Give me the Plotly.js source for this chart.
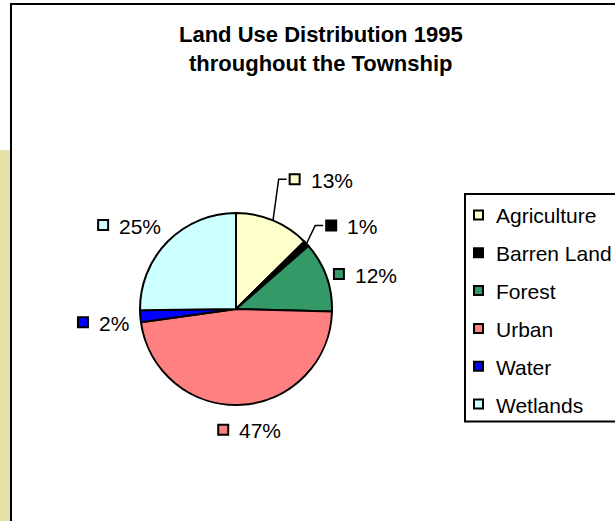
<!DOCTYPE html>
<html><head><meta charset="utf-8">
<script src="https://cdn.plot.ly/plotly-3.0.1.min.js"></script>
<style>html,body{margin:0;padding:0;background:#fff;}#chart{width:615px;height:521px;}</style>
</head><body><div id="chart"></div>
<script>
// ---- data ----
const categories = ['Agriculture', 'Barren Land', 'Forest', 'Urban', 'Water', 'Wetlands'];
const shares = [12.6, 1.0, 11.8, 47.4, 2.0, 25.2];
const colors = ['#FFFFCC', '#000000', '#339966', '#FF8080', '#0000FF', '#CCFFFF'];
const titleLines = ['Land Use Distribution 1995', 'throughout the Township'];

// ---- layout config (pixels) ----
const W = 615, H = 521;
const CX = 236, CY = 309, R = 96;
const FONT = '"Liberation Sans", Arial, sans-serif';
const FS = 21;
const labelGap = [12, 12, 7, 14, 13, 12];
const labelShift = [[11, -22], [10, -2], [0, 0], [6, 3], [0, 5], [0, 0]];
const useLeader = [true, true, false, false, false, false];

const px = x => x / W;
const py = y => 1 - y / H;

const ctx = document.createElement('canvas').getContext('2d');
ctx.font = FS + 'px "Liberation Sans", Arial, sans-serif';

const total = shares.reduce((a, b) => a + b, 0);
const shapes = [];
const annotations = [];

// page decoration
shapes.push({type: 'rect', xref: 'paper', yref: 'paper', x0: 0, x1: px(10), y0: 0, y1: py(150),
  fillcolor: '#E6E2A8', line: {width: 0}, layer: 'below'});
shapes.push({type: 'line', xref: 'paper', yref: 'paper', x0: px(11), x1: px(11), y0: 0, y1: py(3),
  line: {color: '#000', width: 2}});
shapes.push({type: 'line', xref: 'paper', yref: 'paper', x0: px(10), x1: 1, y0: py(4), y1: py(4),
  line: {color: '#000', width: 2}});

// title
titleLines.forEach((t, i) => {
  annotations.push({text: '<b>' + t + '</b>', xref: 'paper', yref: 'paper', x: px(320.5), y: py(34 + i * 29.5),
    xanchor: 'center', yanchor: 'middle', showarrow: false, font: {family: FONT, size: 22, color: '#000'}});
});

// data labels with keys
let cum = 0;
shares.forEach((v, i) => {
  const mid = (cum + v / 2) / total * 2 * Math.PI;
  cum += v;
  const s = Math.sin(mid), c = Math.cos(mid);
  const d = R + labelGap[i];
  const P = [CX + d * s, CY - d * c];
  const txt = Math.round(v / total * 100) + '%';
  const tw = ctx.measureText(txt).width;
  const gw = 12 + 8 + tw, gh = 16;
  let gx = s > 0.3 ? P[0] : (s < -0.3 ? P[0] - gw : P[0] - gw / 2);
  let gcy = c > 0.5 ? P[1] - gh / 2 : (c < -0.5 ? P[1] + gh / 2 : P[1]);
  gx += labelShift[i][0];
  gcy += labelShift[i][1];
  shapes.push({type: 'rect', xref: 'paper', yref: 'paper', x0: px(gx + 1), x1: px(gx + 11), y0: py(gcy - 5), y1: py(gcy + 5),
    fillcolor: colors[i], line: {color: '#000', width: 2}});
  annotations.push({text: txt, xref: 'paper', yref: 'paper', x: px(gx + 20), y: py(gcy + 1),
    xanchor: 'left', yanchor: 'middle', showarrow: false, font: {family: FONT, size: FS, color: '#000'}});
  if (useLeader[i]) {
    const E = [CX + R * s, CY - R * c];
    const path = 'M' + px(E[0]) + ',' + py(E[1]) + ' L' + px(gx - 10) + ',' + py(gcy) + ' L' + px(gx - 2) + ',' + py(gcy);
    shapes.push({type: 'path', xref: 'paper', yref: 'paper', path: path, line: {color: '#000', width: 1.5}});
  }
});

// legend (manual)
const LX = 465, LTOP = 194, LBOT = 421.5, LSTEP = 37.8, LFIRST = 215;
shapes.push({type: 'rect', xref: 'paper', yref: 'paper', x0: px(LX), x1: px(650), y0: py(LBOT), y1: py(LTOP),
  fillcolor: 'rgba(0,0,0,0)', line: {color: '#000', width: 2}});
categories.forEach((name, i) => {
  const yc = LFIRST + i * LSTEP;
  shapes.push({type: 'rect', xref: 'paper', yref: 'paper', x0: px(474), x1: px(483), y0: py(yc + 4.5), y1: py(yc - 4.5),
    fillcolor: colors[i], line: {color: '#000', width: 2}});
  annotations.push({text: name, xref: 'paper', yref: 'paper', x: px(494), y: py(yc + 1),
    xanchor: 'left', yanchor: 'middle', showarrow: false, font: {family: FONT, size: FS, color: '#000'}});
});

const trace = {
  type: 'pie', labels: categories, values: shares, sort: false, direction: 'clockwise', rotation: 0,
  marker: {colors: colors, line: {color: '#000', width: 2}},
  textinfo: 'none', hoverinfo: 'label+percent', showlegend: false,
  domain: {x: [px(CX - R), px(CX + R)], y: [py(CY + R), py(CY - R)]}
};

const layout = {
  width: W, height: H, margin: {l: 0, r: 0, t: 0, b: 0},
  paper_bgcolor: '#fff', plot_bgcolor: '#fff', showlegend: false,
  shapes: shapes, annotations: annotations
};

Plotly.newPlot('chart', [trace], layout, {displayModeBar: false, staticPlot: true});
</script>
</body></html>
